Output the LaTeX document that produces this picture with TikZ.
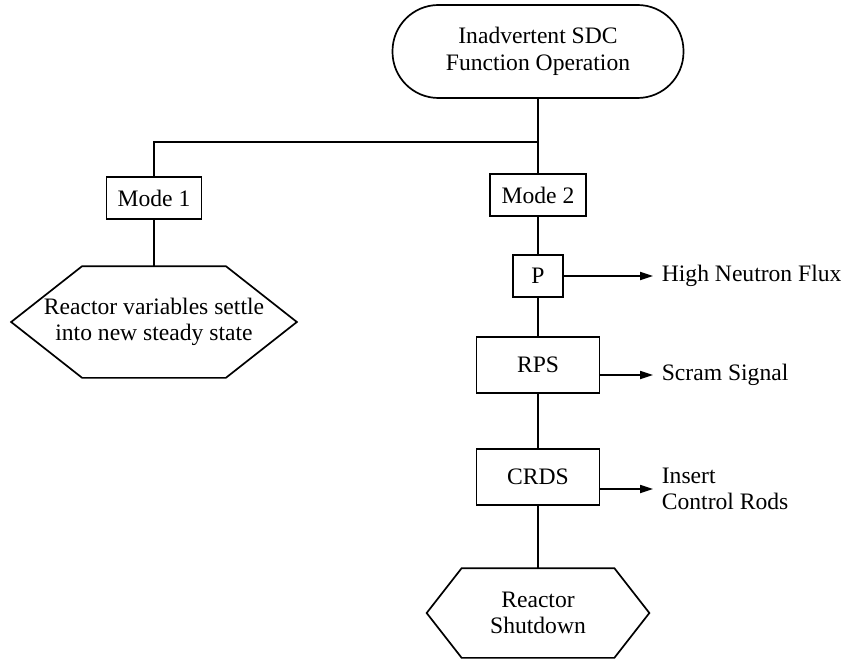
\documentclass[tikz,border=0pt]{standalone}
\usepackage{fontspec}
\setmainfont{LiberationSerif}[Extension=.ttf, UprightFont=*-Regular, BoldFont=*-Bold]
\usetikzlibrary{arrows.meta}
\tikzset{
  box/.style={draw, rectangle, inner sep=0pt, minimum height=42pt},
  hexbox/.style={rectangle, inner sep=0pt, align=center},
  lbl/.style={anchor=west, inner sep=8pt, align=left},
  sig/.style={-{Triangle[length=13pt,width=8pt]}}
}
\newcommand{\drawhex}[2]{%
  \draw (#1.west) -- ([xshift=#2]#1.north west) -- ([xshift=-#2]#1.north east)
    -- (#1.east) -- ([xshift=-#2]#1.south east) -- ([xshift=#2]#1.south west) -- cycle;}
\begin{document}
\begin{tikzpicture}[x=1pt, y=-1pt, line width=1.7pt, font=\rmfamily\fontsize{23.6}{26.5}\selectfont]
  \useasboundingbox (0,0) rectangle (850,660);
  \node[box, rounded corners=46pt, minimum width=291pt, minimum height=93pt, align=center] (start) at (538,51.5) {Inadvertent SDC\\Function Operation};
  \coordinate (split) at (538,142);
  \coordinate (bend) at (154,142);
  \node[box, minimum width=95pt] (mode1) at (154,198) {Mode 1};
  \node[box, minimum width=96pt] (mode2) at (538,195) {Mode 2};
  \node[hexbox, minimum width=284pt, minimum height=110pt] (settle) at (154,322) {Reactor variables settle\\into new steady state};
  \drawhex{settle}{71pt}
  \node[box, minimum width=50pt] (p) at (538,276) {P};
  \node[box, minimum width=123pt, minimum height=56pt] (rps) at (538,365) {RPS};
  \node[box, minimum width=123pt, minimum height=56pt] (crds) at (538,477) {CRDS};
  \node[hexbox, minimum width=221pt, minimum height=88pt] (shutdown) at (538,613) {Reactor\\Shutdown};
  \drawhex{shutdown}{35pt}
  \node[lbl] (flux) at (653,276) {High Neutron Flux};
  \node[lbl] (scram) at (653,375) {Scram Signal};
  \node[lbl] (rods) at (653,489) {Insert\\Control Rods};
  \draw (start) -- (mode2);
  \draw (split) -- (bend) -- (mode1);
  \draw (mode1) -- (settle);
  \draw (mode2) -- (p);
  \draw (p) -- (rps);
  \draw (rps) -- (crds);
  \draw (crds) -- (shutdown);
  \draw[sig] (p) -- (flux.west);
  \draw[sig] (rps.east |- scram.west) -- (scram.west);
  \draw[sig] (crds.east |- rods.west) -- (rods.west);
\end{tikzpicture}
\end{document}
